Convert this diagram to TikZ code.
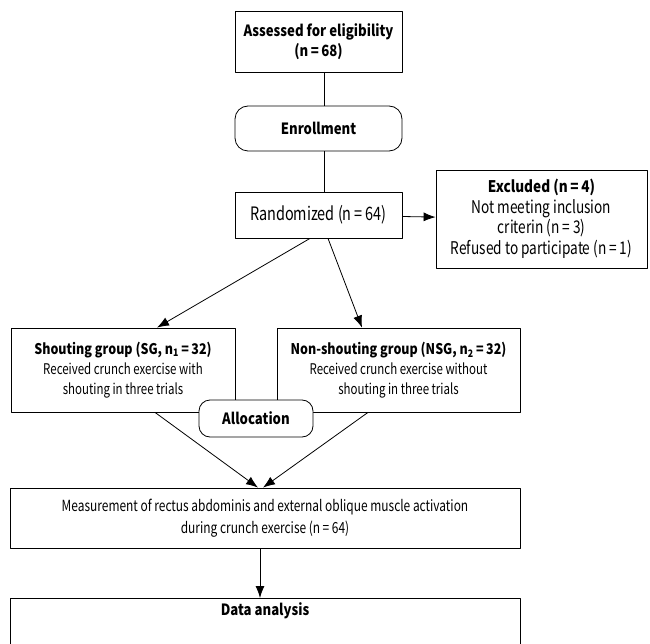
\documentclass[tikz,border=0pt]{standalone}
\usepackage{fontspec}
\setmainfont{Noto Sans CJK KR}[FakeStretch=0.78]
\newfontfamily\boldfont{Noto Sans CJK KR}[FakeStretch=0.85]
\newcommand\hd[1]{{\boldfont\bfseries #1}}
\usetikzlibrary{arrows.meta}
\begin{document}
\begin{tikzpicture}[x=1pt,y=-1pt,line join=round,
	font=\fontsize{15.5}{20.5}\selectfont,
	box/.style={draw,line width=0.8pt,fill=white,align=center,inner sep=2pt},
	stage/.style={box,rounded corners=13pt,font=\fontsize{15.5}{20.5}\selectfont\boldfont\bfseries},
	link/.style={line width=0.8pt},
	arr/.style={link,-{Latex[length=12pt,width=9pt]}}]
	\useasboundingbox (0,0) rectangle (650,644);
	% enrollment part
	\node[box,minimum width=167pt,minimum height=61pt] (assess) at (318.5,41.5) {\hd{Assessed for eligibility}\\\hd{(n\,=\,68)}};
	\node[stage,minimum width=167pt,minimum height=45pt] (enroll) at (318.5,128.5) {Enrollment};
	\node[box,minimum width=167pt,minimum height=46pt,font=\fontsize{18.5}{20.5}\selectfont] (random) at (318.5,215) {Randomized (n\,=\,64)};
	\node[box,minimum width=211pt,minimum height=98pt,font=\fontsize{17.5}{20.5}\selectfont] (exclude) at (541.5,219) {{\fontsize{16}{20.5}\selectfont\hd{Excluded (n\,=\,4)}}\\Not meeting inclusion\\criterin (n\,=\,3)\\Refused to participate (n\,=\,1)};
	\draw[link] ([xshift=5.5pt]assess.south)--([xshift=5.5pt]enroll.north);
	\draw[link] ([xshift=5.5pt]enroll.south)--([xshift=5.5pt]random.north);
	\draw[arr] (random)--(exclude);
	% allocation part
	\node[box,minimum width=224pt,minimum height=84pt,font=\fontsize{14.7}{20}\selectfont] (SG) at (123,370) {\hd{Shouting group (SG, n\textsubscript{1}\,=\,32)}\\Received crunch exercise with\\shouting in three trials};
	\node[box,minimum width=243pt,minimum height=84pt,font=\fontsize{14.7}{20}\selectfont] (NSG) at (398.5,370) {\hd{Non-shouting group (NSG, n\textsubscript{2}\,=\,32)}\\Received crunch exercise without\\shouting in three trials};
	\draw[arr] ([xshift=-8.5pt]random.south)--([xshift=34pt]SG.north);
	\draw[arr] ([xshift=9.5pt]random.south)--([xshift=-36.5pt]NSG.north);
	\node[stage,minimum width=114pt,minimum height=37pt,rounded corners=11pt] (alloc) at (256,418.5) {Allocation};
	% measurement and analysis
	\node[box,minimum width=510pt,minimum height=60pt,font=\fontsize{15.3}{22}\selectfont] (measure) at (265,518) {Measurement of rectus abdominis and external oblique muscle activation\\during crunch exercise (n\,=\,64)};
	\draw[arr] ([xshift=32pt]SG.south)--([xshift=-7pt]measure.north);
	\draw[arr] ([xshift=-30.5pt]NSG.south)--([xshift=-2pt]measure.north);
	\node[box,anchor=north,minimum width=510pt,inner ysep=4pt,text depth=40pt,font=\fontsize{15.5}{20.5}\selectfont\boldfont\bfseries] (analysis) at (265,598) {Data analysis};
	\draw[arr] ([xshift=-5pt]measure.south)--([xshift=-5pt]analysis.north);
\end{tikzpicture}
\end{document}
